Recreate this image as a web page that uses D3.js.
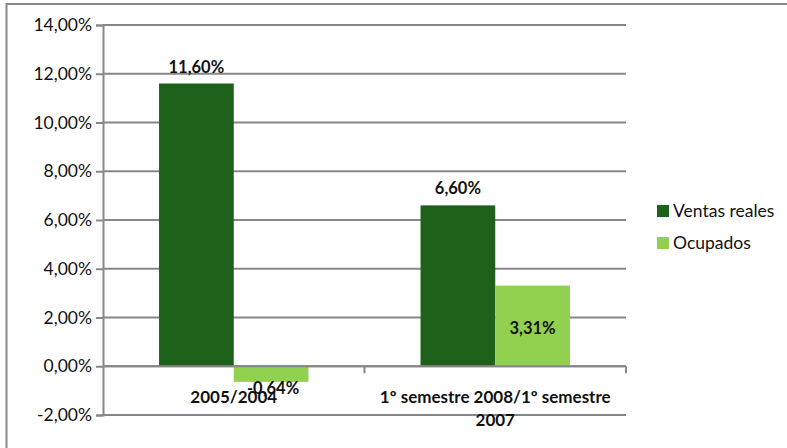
<!DOCTYPE html>
<html>
<head>
<meta charset="utf-8">
<script src="https://cdn.jsdelivr.net/npm/d3@7"></script>
<style>
  html, body { margin: 0; padding: 0; background: #fff; }
  svg { display: block; font-family: Lato, "Open Sans", sans-serif; }
</style>
</head>
<body>
<svg id="chart" width="787" height="448"></svg>
<script>
// ---- data ----
const categories = ["2005/2004", "1º semestre 2008/1º semestre 2007"];
const categoryLines = [["2005/2004"], ["1º semestre 2008/1º semestre", "2007"]];
const seriesNames = ["Ventas reales", "Ocupados"];
const ventasReales = [11.60, 6.60];
const ocupados = [-0.64, 3.31];
const tickValues = [-2, 0, 2, 4, 6, 8, 10, 12, 14];
const tickLabels = ["-2,00%", "0,00%", "2,00%", "4,00%", "6,00%", "8,00%", "10,00%", "12,00%", "14,00%"];
const seriesColors = ["#1D611B", "#92D050"];

const seriesValues = [ventasReales, ocupados];

const svg = d3.select("#chart");
const gridColor = "#878787";

// outer border
svg.append("rect")
  .attr("x", 6.5).attr("y", 4).attr("width", 800).attr("height", 470)
  .attr("fill", "none").attr("stroke", gridColor).attr("stroke-width", 2);

const plotLeft = 103, plotRight = 626, plotTop = 25, plotBottom = 415;

const y = d3.scaleLinear().domain([-2, 14]).range([plotBottom, plotTop]);
const x0 = d3.scaleBand().domain(categories).range([plotLeft, plotRight]).paddingInner(0).paddingOuter(0);
const x1 = d3.scaleBand().domain(seriesNames).range([0, x0.bandwidth()]).paddingInner(0).paddingOuter(0.75);

// gridlines
svg.append("g").selectAll("line").data(tickValues).join("line")
  .attr("x1", plotLeft).attr("x2", plotRight)
  .attr("y1", d => y(d)).attr("y2", d => y(d))
  .attr("stroke", gridColor).attr("stroke-width", 2);

// y axis
const yAxis = svg.append("g").attr("transform", `translate(${plotLeft},0)`)
  .call(d3.axisLeft(y).tickValues(tickValues).tickSize(7).tickPadding(4)
    .tickFormat((d, i) => tickLabels[i]));
yAxis.select(".domain").attr("stroke", gridColor).attr("stroke-width", 2);
yAxis.selectAll(".tick line").attr("stroke", gridColor).attr("stroke-width", 2);
yAxis.selectAll(".tick text").attr("font-size", 17.5).attr("fill", "#111")
  .attr("font-family", "Lato, sans-serif");

// category axis ticks at y=0
const catTicks = [x0.range()[0] + x0.step(), plotRight];
svg.append("g").selectAll("line").data(catTicks).join("line")
  .attr("x1", d => d).attr("x2", d => d)
  .attr("y1", y(0)).attr("y2", y(0) + 7)
  .attr("stroke", gridColor).attr("stroke-width", 2);

// bars
const groups = svg.append("g").selectAll("g").data(categories).join("g")
  .attr("transform", d => `translate(${x0(d)},0)`);

groups.selectAll("rect")
  .data((c, ci) => seriesNames.map((s, si) => ({ s, si, v: seriesValues[si][ci] })))
  .join("rect")
  .attr("x", d => x1(d.s))
  .attr("width", x1.bandwidth())
  .attr("y", d => y(Math.max(0, d.v)))
  .attr("height", d => Math.abs(y(d.v) - y(0)))
  .attr("fill", d => seriesColors[d.si]);

// redraw zero line over bars
svg.append("line")
  .attr("x1", plotLeft).attr("x2", plotRight).attr("y1", y(0)).attr("y2", y(0))
  .attr("stroke", gridColor).attr("stroke-width", 2);

// data labels
const fmt = v => v.toFixed(2).replace(".", ",") + "%";
groups.selectAll("text.dl")
  .data((c, ci) => seriesNames.map((s, si) => ({ s, si, v: seriesValues[si][ci] })))
  .join("text")
  .attr("class", "dl")
  .attr("x", d => x1(d.s) + x1.bandwidth() / 2 + (d.v < 0 ? 2 : 0))
  .attr("y", d => {
    if (d.si === 0) return y(d.v) - 11;
    if (d.v < 0) return y(d.v) + 12;
    return (y(d.v) + y(0)) / 2 + 8;
  })
  .attr("text-anchor", "middle")
  .attr("font-size", 16.5).attr("font-weight", "bold").attr("fill", "#111")
  .text(d => fmt(d.v));

// category labels
groups.each(function (c, ci) {
  const g = d3.select(this);
  categoryLines[ci].forEach((line, li) => {
    g.append("text")
      .attr("x", x0.bandwidth() / 2)
      .attr("y", y(0) + 37 + li * 23)
      .attr("text-anchor", "middle")
      .attr("font-size", 17).attr("font-weight", "bold").attr("fill", "#111")
      .text(line);
  });
});

// legend
const legend = svg.append("g").selectAll("g").data(seriesNames).join("g")
  .attr("transform", (d, i) => `translate(657,${205 + i * 32})`);
legend.append("rect").attr("width", 12).attr("height", 12)
  .attr("fill", (d, i) => seriesColors[i]);
legend.append("text").attr("x", 16).attr("y", 6).attr("dy", "0.35em")
  .attr("font-size", 17.5).attr("fill", "#111").text(d => d);
</script>
</body>
</html>
